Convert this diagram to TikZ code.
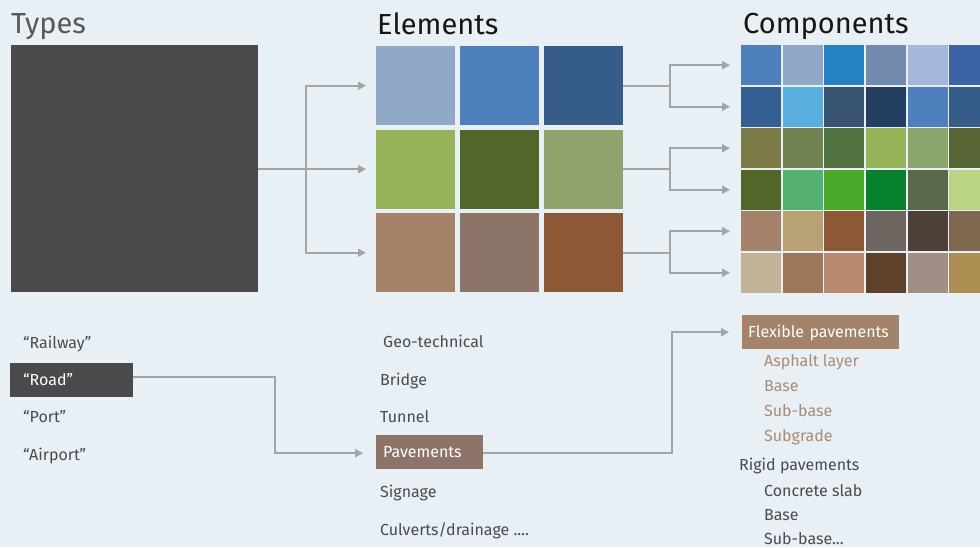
\documentclass[tikz,border=0pt]{standalone}
\usepackage{fontspec}
\setmainfont{Fira Sans}
\usetikzlibrary{positioning,arrows.meta,calc}
\definecolor{bg}{HTML}{E8F0F6}
\definecolor{ink}{HTML}{4B4B4D}
\definecolor{dim}{HTML}{58585A}
\definecolor{head}{HTML}{161616}
\definecolor{wire}{HTML}{A2A4A6}
\definecolor{slate}{HTML}{4A4A4C}
\definecolor{pave}{HTML}{8C7468}
\definecolor{flex}{HTML}{A4836A}
\definecolor{flexlt}{HTML}{AA8B73}
\tikzset{
  flow/.style={-{Triangle[length=8pt,width=8pt]}, line width=2pt, color=wire},
  title/.style={anchor=base west, inner sep=0pt, font=\fontsize{29}{34}\selectfont, text=#1},
  title/.default=head,
  item/.style={anchor=base west, inner sep=0pt, font=\fontsize{16}{19}\selectfont, text=#1},
  item/.default=ink,
  tag/.style={fill=#1, text=white, anchor=north west, font=\fontsize{16}{19}\selectfont,
    minimum height=34pt, text height=11pt, text depth=0pt, inner ysep=0pt, align=left},
  tile/.style={fill=#1, minimum size=79pt, inner sep=0pt, anchor=north west},
  cell/.style={fill=#1, minimum size=40pt, inner sep=0pt, anchor=north west},
}

\begin{document}
\begin{tikzpicture}[x=1pt, y=-1pt]
  \fill[bg] (0,0) rectangle (980,547);
  \path[clip, use as bounding box] (0,0) rectangle (980,547);

  % column headings
  \node[title=dim] (ttypes) at (11,33) {Types};
  \node[title] (telem) at (377,34) {Elements};
  \node[title] (tcomp) at (743,33) {Components};

  % types
  \node[fill=slate, minimum size=247pt, inner sep=0pt, anchor=north west] (types) at (11,45) {};

  % elements
  \foreach \r/\cols in {1/{8FA9C6,4D7FBB,365C8A}, 2/{97B35A,536629,91A26D}, 3/{A4836A,8C7468,8C5835}}
    \foreach \hx [count=\c] in \cols {
      \definecolor{tmp}{HTML}{\hx}
      \node[tile=tmp] (e-\r-\c) at ({376+(\c-1)*84}, {46+(\r-1)*83.5}) {};
    }

  % components
  \foreach \r/\cols in {1/{4D7FBB,8FA9C6,2382C1,718AAE,A3B8DA,3C62A8},
                        2/{355F93,58AEDD,37536F,233F61,4C7FBC,365C8A},
                        3/{7B7946,718150,517341,97B35A,89A76C,566533},
                        4/{536629,54B172,4AA82A,08822F,5B684C,BAD385},
                        5/{A4836A,B8A273,8C5835,6F6560,4D4038,80674F},
                        6/{C2B396,9E765A,B9896E,5E402B,A08F85,AC8E52}}
    \foreach \hx [count=\c] in \cols {
      \definecolor{tmp}{HTML}{\hx}
      \node[cell=tmp] (c-\r-\c) at ({741+(\c-1)*41.6}, {45+(\r-1)*41.5}) {};
    }

  % types -> elements
  \coordinate (tj) at ($(types.east)+(48,0)$);
  \foreach \r in {1,2,3}
    \draw[flow, shorten >=10pt] (types.east) -- (tj) |- (e-\r-1.west);

  % elements -> components
  \foreach \r in {1,2,3} {
    \coordinate (ej\r) at ($(e-\r-3.east)+(47,0)$);
    \pgfmathtruncatemacro{\ka}{2*\r-1}
    \pgfmathtruncatemacro{\kb}{2*\r}
    \draw[flow, shorten >=11pt] (e-\r-3.east) -- (ej\r) |- (c-\ka-1.west);
    \draw[flow, shorten >=11pt] (e-\r-3.east) -- (ej\r) |- (c-\kb-1.west);
  }

  % lists
  \node[item] (rail) at (23,348) {“Railway”};
  \node[tag=slate, inner xsep=13pt, text width=97pt] (road) at (10,363) {“Road”};
  \node[item] (port) at (23,422) {“Port”};
  \node[item] (air) at (23,460) {“Airport”};

  \node[item] (geo) at (383,347) {Geo-technical};
  \node[item] (bridge) at (380,385) {Bridge};
  \node[item] (tunnel) at (380,422) {Tunnel};
  \node[tag=pave, inner xsep=7pt, text width=93pt] (pav) at (376,435) {Pavements};
  \node[item] (sign) at (380,497) {Signage};
  \node[item] (culv) at (380,535) {Culverts/drainage ....};

  \node[tag=flex, inner xsep=6pt, text width=145pt] (flexp) at (742,315) {Flexible pavements};
  \node[item=flexlt] (asph) at (764,366) {Asphalt layer};
  \node[item=flexlt] (fbase) at (764,391) {Base};
  \node[item=flexlt] (fsub) at (764,416) {Sub-base};
  \node[item=flexlt] (fgrade) at (764,441.5) {Subgrade};
  \node[item] (rigid) at (739,470) {Rigid pavements};
  \node[item] (slab) at (764,496) {Concrete slab};
  \node[item] (rbase) at (764,520.5) {Base};
  \node[item] (rsub) at (764,544.5) {Sub-base...};

  % selection path
  \coordinate (rj) at ($([yshift=3pt]road.east)+(142,0)$);
  \draw[flow, shorten >=13pt] ([yshift=3pt]road.east) -- (rj) |- ([yshift=-1pt]pav.west);
  \coordinate (pj) at ($([yshift=-1pt]pav.east)+(189,0)$);
  \draw[flow, shorten >=13pt] ([yshift=-1pt]pav.east) -- (pj) |- (flexp.west);
\end{tikzpicture}
\end{document}
